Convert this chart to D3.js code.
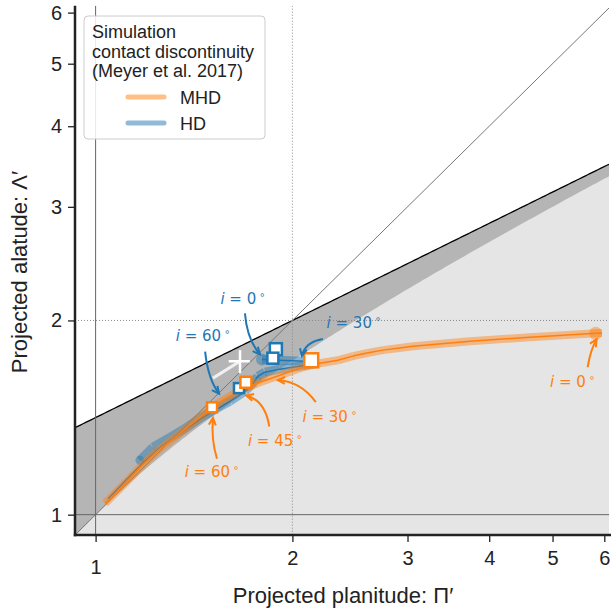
<!DOCTYPE html>
<html>
<head>
<meta charset="utf-8">
<script src="https://cdn.jsdelivr.net/npm/d3@7"></script>
<style>
  html, body { margin: 0; padding: 0; background: #fff; }
  svg { display: block; }
</style>
</head>
<body>
<svg id="chart" width="611" height="610"></svg>
<script>
// Tick labels shared by both log axes
const tickValues = [1, 2, 3, 4, 5, 6];

// MHD contact-discontinuity track (planitude, alatude), from i = 0 outward
const mhdPi  = [5.95, 5.82, 4.62, 3.74, 3.06, 2.75, 2.60, 2.475, 2.347, 2.203, 2.053, 1.914, 1.784, 1.663, 1.549, 1.444, 1.323, 1.246, 1.178, 1.109, 1.034];
const mhdLam = [1.912, 1.910, 1.884, 1.857, 1.824, 1.799, 1.780, 1.761, 1.735, 1.717, 1.687, 1.645, 1.604, 1.559, 1.494, 1.416, 1.318, 1.258, 1.193, 1.118, 1.041];

// HD contact-discontinuity track (broad band)
const hdPi  = [1.797, 1.948, 2.090, 2.189, 2.053, 1.914, 1.816, 1.771, 1.747, 1.692, 1.605, 1.533, 1.444, 1.379, 1.300, 1.224, 1.169];
const hdLam = [1.740, 1.734, 1.729, 1.717, 1.699, 1.681, 1.663, 1.639, 1.604, 1.553, 1.499, 1.462, 1.411, 1.366, 1.318, 1.272, 1.214];

// HD track (thin line)
const hdThinPi  = [1.797, 1.948, 2.090, 2.189, 2.053, 1.914, 1.816, 1.771, 1.747, 1.692, 1.605, 1.533, 1.444, 1.346, 1.254, 1.178, 1.109, 1.045];
const hdThinLam = [1.740, 1.734, 1.729, 1.717, 1.699, 1.681, 1.663, 1.639, 1.604, 1.553, 1.499, 1.458, 1.405, 1.337, 1.268, 1.199, 1.128, 1.058];

// Fitted shapes at selected inclinations (square markers)
const mhdFitPi  = [1.507, 1.698, 2.137];
const mhdFitLam = [1.467, 1.604, 1.735];
const mhdFitSize = [10, 11, 14];
const hdFitPi  = [1.887, 1.867, 1.657];
const hdFitLam = [1.805, 1.748, 1.571];
const hdFitSize = [12, 11, 10];

// Observed value with error bars
const obsPi = 1.663, obsLam = 1.729;
const obsPiRange = [1.598, 1.721];
const obsLamRange = [1.657, 1.799];
const obsTrailPi = [1.512, 1.663];
const obsTrailLam = [1.628, 1.729];

// Inclination annotations: label, series, target (planitude, alatude)
const annLabels = ["0", "60", "30", "0", "30", "45", "60"];
const annSeries = ["hd", "hd", "hd", "mhd", "mhd", "mhd", "mhd"];
const annPi  = [1.784, 1.545, 2.068, 5.84, 1.900, 1.700, 1.512];
const annLam = [1.772, 1.540, 1.762, 1.870, 1.616, 1.530, 1.413];

const ORANGE = "#ff7f0e", BLUE = "#1f77b4";
const SANS = "Liberation Sans, Arial, sans-serif";

const svg = d3.select("#chart");
const W = 611, H = 610;
const pL = 75, pR = 609, pT = 5.7, pB = 535;

const x = d3.scaleLog().domain([0.93, 6.1]).range([pL, pR]);
const y = d3.scaleLog().domain([0.93, 6.15]).range([pB, pT]);

svg.append("defs").append("clipPath").attr("id", "plotclip")
  .append("rect").attr("x", pL).attr("y", pT).attr("width", pR - pL).attr("height", pB - pT);

const plot = svg.append("g").attr("clip-path", "url(#plotclip)");

// Shaded regions: below the paraboloid line and below the hyperboloid limit
const piGrid = d3.range(0, 201).map(k => 0.93 * Math.pow(6.1 / 0.93, k / 200));
const area = fn => d3.area()
  .x(p => x(p)).y0(pB).y1(p => y(fn(p)));
plot.append("path").datum(piGrid)
  .attr("d", area(p => Math.sqrt(2 * p)))
  .attr("fill", "#b5b5b5");
plot.append("path").datum(piGrid)
  .attr("d", area(p => Math.sqrt(Math.max(2 * p - 1, 0.01))))
  .attr("fill", "#e5e5e5");

// Paraboloid boundary line
plot.append("path").datum(piGrid)
  .attr("d", d3.line().x(p => x(p)).y(p => y(Math.sqrt(2 * p))))
  .attr("fill", "none").attr("stroke", "#000").attr("stroke-width", 1.3);

// Reference lines
plot.append("line").attr("x1", x(0.93)).attr("y1", y(0.93)).attr("x2", x(6.1)).attr("y2", y(6.1))
  .attr("stroke", "#777").attr("stroke-width", 1);
plot.append("line").attr("x1", x(1)).attr("x2", x(1)).attr("y1", pT).attr("y2", pB)
  .attr("stroke", "#666").attr("stroke-width", 1);
plot.append("line").attr("y1", y(1)).attr("y2", y(1)).attr("x1", pL).attr("x2", pR)
  .attr("stroke", "#666").attr("stroke-width", 1);
plot.append("line").attr("x1", x(2)).attr("x2", x(2)).attr("y1", pT).attr("y2", pB)
  .attr("stroke", "#888").attr("stroke-width", 1).attr("stroke-dasharray", "1,2");
plot.append("line").attr("y1", y(2)).attr("y2", y(2)).attr("x1", pL).attr("x2", pR)
  .attr("stroke", "#888").attr("stroke-width", 1).attr("stroke-dasharray", "1,2");

const zip = (a, b) => a.map((v, i) => [v, b[i]]);
const line = d3.line().x(d => x(d[0])).y(d => y(d[1]));

// Broad translucent band drawn segment by segment so joints overlap
function band(pts, color, width) {
  const g = plot.append("g");
  for (let i = 0; i < pts.length - 1; i++) {
    g.append("path").attr("d", line([pts[i], pts[i + 1]]))
      .attr("fill", "none").attr("stroke", color).attr("stroke-width", width)
      .attr("stroke-opacity", 0.45).attr("stroke-linecap", "butt");
  }
  return g;
}

const mhd = zip(mhdPi, mhdLam);
const hd = zip(hdPi, hdLam);
const hdThin = zip(hdThinPi, hdThinLam);

band(hd, BLUE, 9);
plot.append("circle").attr("cx", x(hd[0][0])).attr("cy", y(hd[0][1])).attr("r", 6)
  .attr("fill", BLUE).attr("fill-opacity", 0.45);
plot.append("circle").attr("cx", x(hd[hd.length - 1][0])).attr("cy", y(hd[hd.length - 1][1])).attr("r", 4.5)
  .attr("fill", BLUE).attr("fill-opacity", 0.45);
plot.append("path").attr("d", line(hdThin)).attr("fill", "none")
  .attr("stroke", BLUE).attr("stroke-width", 1.5).attr("stroke-linejoin", "round");

band(mhd, ORANGE, 8);
plot.append("circle").attr("cx", x(mhd[1][0])).attr("cy", y(mhd[1][1])).attr("r", 6.5)
  .attr("fill", ORANGE).attr("fill-opacity", 0.45);
plot.append("path").attr("d", line(mhd)).attr("fill", "none")
  .attr("stroke", ORANGE).attr("stroke-width", 1.5).attr("stroke-linejoin", "round");

// Observation with error bars
plot.append("path").attr("d", line(zip(obsTrailPi, obsTrailLam)))
  .attr("stroke", "#fff").attr("stroke-width", 3).attr("stroke-opacity", 0.8).attr("fill", "none");
plot.append("line").attr("x1", x(obsPiRange[0])).attr("x2", x(obsPiRange[1]))
  .attr("y1", y(obsLam)).attr("y2", y(obsLam)).attr("stroke", "#fff").attr("stroke-width", 2.5);
plot.append("line").attr("x1", x(obsPi)).attr("x2", x(obsPi))
  .attr("y1", y(obsLamRange[0])).attr("y2", y(obsLamRange[1])).attr("stroke", "#fff").attr("stroke-width", 2.5);

// Square markers
function squares(pis, lams, sizes, color) {
  pis.forEach((p, i) => {
    const s = sizes[i];
    plot.append("rect")
      .attr("x", x(p) - s / 2).attr("y", y(lams[i]) - s / 2)
      .attr("width", s).attr("height", s)
      .attr("fill", "#fff").attr("stroke", color).attr("stroke-width", 2.5);
  });
}
squares(hdFitPi, hdFitLam, hdFitSize, BLUE);
squares(mhdFitPi, mhdFitLam, mhdFitSize, ORANGE);

// Annotation layout (text offset and bend, in screen pixels)
const annText = [[-17, -56], [-16, -58], [52, -33], [-24, 42], [52, 36], [29, 45], [-1, 54]];
const annStart = [[-15, -41], [-14, -42], [21, -17], [-9, 28], [38, 22], [23, 31], [4, 41]];
const annCtrl  = [[-13, -15], [-11, -14], [3, -14], [-6, 10], [23, 1], [19, 5], [-2, 21]];

const ann = svg.append("g");
annLabels.forEach((lab, i) => {
  const color = annSeries[i] === "hd" ? BLUE : ORANGE;
  const tx = x(annPi[i]), ty = y(annLam[i]);
  const sx = tx + annStart[i][0], sy = ty + annStart[i][1];
  const cx = tx + annCtrl[i][0], cy = ty + annCtrl[i][1];
  ann.append("path").attr("d", `M${sx},${sy}Q${cx},${cy} ${tx},${ty}`)
    .attr("fill", "none").attr("stroke", color).attr("stroke-width", 2);
  const ang = Math.atan2(ty - cy, tx - cx);
  const L = 8, a = 0.45;
  const p1 = [tx - L * Math.cos(ang - a), ty - L * Math.sin(ang - a)];
  const p2 = [tx - L * Math.cos(ang + a), ty - L * Math.sin(ang + a)];
  ann.append("path").attr("d", `M${p1}L${tx},${ty}L${p2}`)
    .attr("fill", "none").attr("stroke", color).attr("stroke-width", 2).attr("stroke-linejoin", "miter");
  const t = ann.append("text")
    .attr("x", tx + annText[i][0]).attr("y", ty + annText[i][1] + 5.5)
    .attr("text-anchor", "middle").attr("fill", color)
    .attr("font-family", "DejaVu Sans").attr("font-size", 15);
  t.append("tspan").attr("font-style", "italic").text("i");
  t.append("tspan").text(" = " + lab);
  t.append("tspan").attr("dx", 3).attr("dy", -6).attr("font-size", 10).text("∘");
});

// Axes
const fmt = d3.format("d");
const xAxis = svg.append("g").attr("transform", `translate(0,${pB})`)
  .call(d3.axisBottom(x).tickValues(tickValues).tickFormat(fmt).tickSize(7).tickSizeOuter(0).tickPadding(9));
const yAxis = svg.append("g").attr("transform", `translate(${pL},0)`)
  .call(d3.axisLeft(y).tickValues(tickValues).tickFormat(fmt).tickSize(7).tickSizeOuter(0).tickPadding(6));
[xAxis, yAxis].forEach(g => {
  g.selectAll("text").attr("font-family", SANS).attr("font-size", 20).attr("fill", "#222");
  g.selectAll(".tick line").attr("stroke", "#222").attr("stroke-width", 1.3);
  g.select(".domain").remove();
});
xAxis.selectAll(".tick").filter(d => d === 1).select("text").attr("dy", "1.15em");

svg.append("line").attr("x1", pL).attr("x2", pL).attr("y1", pT).attr("y2", pB + 1.2)
  .attr("stroke", "#222").attr("stroke-width", 2.5);
svg.append("line").attr("x1", pL - 1.2).attr("x2", W).attr("y1", pB).attr("y2", pB)
  .attr("stroke", "#222").attr("stroke-width", 2.5);

// Axis titles
svg.append("text").attr("x", 343).attr("y", 603).attr("text-anchor", "middle")
  .attr("font-family", SANS).attr("font-size", 22).attr("fill", "#222")
  .text("Projected planitude: Π′");
svg.append("text").attr("transform", "translate(27,272) rotate(-90)").attr("text-anchor", "middle")
  .attr("font-family", SANS).attr("font-size", 22).attr("fill", "#222")
  .text("Projected alatude: Λ′");

// Legend
const lg = svg.append("g");
lg.append("rect").attr("x", 84).attr("y", 16).attr("width", 181).attr("height", 123).attr("rx", 4)
  .attr("fill", "#fff").attr("fill-opacity", 0.85).attr("stroke", "#ccc").attr("stroke-width", 1);
["Simulation", "contact discontinuity", "(Meyer et al. 2017)"].forEach((s, i) => {
  lg.append("text").attr("x", 92).attr("y", 38 + i * 19.5)
    .attr("font-family", SANS).attr("font-size", 18).attr("fill", "#222").text(s);
});
[["MHD", ORANGE], ["HD", BLUE]].forEach(([name, c], i) => {
  const yy = 97 + i * 26;
  lg.append("line").attr("x1", 128).attr("x2", 164).attr("y1", yy).attr("y2", yy)
    .attr("stroke", c).attr("stroke-opacity", 0.5).attr("stroke-width", 5).attr("stroke-linecap", "round");
  lg.append("text").attr("x", 180).attr("y", yy + 6.5)
    .attr("font-family", SANS).attr("font-size", 18).attr("fill", "#222").text(name);
});
</script>
</body>
</html>
